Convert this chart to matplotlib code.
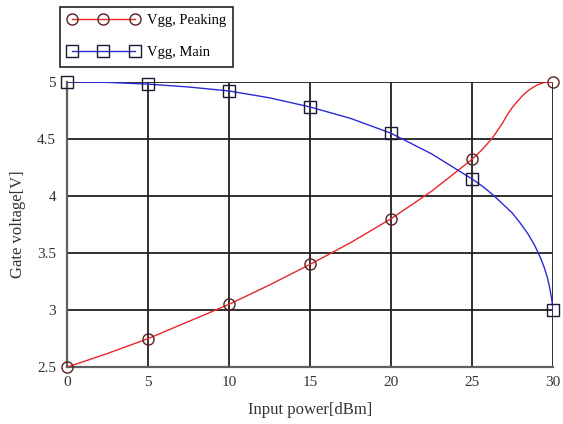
import matplotlib
matplotlib.use("Agg")
import matplotlib.pyplot as plt
from matplotlib.lines import Line2D

plt.rcParams['font.family'] = ['Liberation Serif', 'DejaVu Serif']

# Marker points
x_mark = [0, 5, 10, 15, 20, 25, 30]
peak_mark = [2.5, 2.75, 3.05, 3.4, 3.8, 4.32, 5.0]
main_mark = [5.0, 4.98, 4.92, 4.78, 4.55, 4.15, 3.0]

# Smooth curve traces
x_peak_line = [0, 2.5, 5, 7.5, 10, 12.5, 15, 17.5, 20, 22.5, 25, 25.66, 26.28, 26.9, 27.2, 27.52, 27.85, 28.14, 28.45, 28.76, 29.07, 29.38, 29.7, 30]
peak_line = [2.5, 2.62, 2.75, 2.9, 3.05, 3.22, 3.4, 3.59, 3.8, 4.04, 4.32, 4.41, 4.51, 4.64, 4.715, 4.78, 4.835, 4.88, 4.92, 4.95, 4.975, 4.99, 4.998, 5.0]
x_main_line = [0, 2.5, 5, 7.5, 10, 12.5, 15, 17.5, 20, 22.5, 25, 25.7, 26.3, 26.9, 27.5, 28.0, 28.5, 28.9, 29.2, 29.45, 29.65, 29.8, 29.9, 29.97, 30]
main_line = [5.0, 4.995, 4.98, 4.955, 4.92, 4.86, 4.78, 4.68, 4.55, 4.37, 4.15, 4.08, 4.01, 3.93, 3.85, 3.76, 3.66, 3.56, 3.47, 3.38, 3.29, 3.20, 3.12, 3.05, 3.0]

xticks = [0, 5, 10, 15, 20, 25, 30]
yticks = [2.5, 3, 3.5, 4, 4.5, 5]
yticklabels = ['2.5', '3', '3.5', '4', '4.5', '5']

fig = plt.figure(figsize=(5.63, 4.24), dpi=100)
ax = fig.add_axes([0.119, 0.134, 0.863, 0.673])

red = '#e8262a'
blue = '#2a2ad8'
ax.plot(x_peak_line, peak_line, color=red, lw=1.0, zorder=3)
ax.plot(x_main_line, main_line, color=blue, lw=1.0, zorder=3)
ax.plot(x_mark, peak_mark, ls='none', marker='o', ms=8, mfc='none', mec='#5a2020', mew=1.0, zorder=4, clip_on=False)
ax.plot(x_mark, main_mark, ls='none', marker='s', ms=8, mfc='none', mec='#1a1a30', mew=1.0, zorder=4, clip_on=False)

ax.set_xlim(0, 30)
ax.set_ylim(2.5, 5)
ax.set_xticks(xticks)
ax.set_yticks(yticks)
ax.set_yticklabels(yticklabels)
ax.grid(True, color='#202020', lw=1.3)
ax.set_axisbelow(True)
for s in ['top', 'right']:
    ax.spines[s].set_visible(False)
for s in ['left', 'bottom']:
    ax.spines[s].set_color('#606060')
    ax.spines[s].set_linewidth(1.6)
ax.tick_params(length=0, labelsize=11, colors='#333333')
ax.tick_params(axis='x', pad=6)
ax.tick_params(axis='y', pad=8)

ax.set_xlabel('Input power[dBm]', fontsize=12, color='#333333', labelpad=10)
ax.set_ylabel('Gate voltage[V]', fontsize=12, color='#333333', labelpad=8)

h1 = Line2D([], [], color=red, lw=1.0, marker='o', ms=8, mfc='none', mec='#5a2020')
h2 = Line2D([], [], color=blue, lw=1.0, marker='s', ms=8, mfc='none', mec='#1a1a30')
leg = ax.legend([h1, h2], ['Vgg, Peaking', 'Vgg, Main'], loc='lower left',
                bbox_to_anchor=(-0.014, 1.053), numpoints=3, handlelength=4.9,
                fontsize=10.5, fancybox=False, framealpha=1, edgecolor='#222222',
                borderpad=0.5, labelspacing=1.3, handletextpad=0.55, borderaxespad=0)
leg.get_frame().set_linewidth(1.2)

fig.savefig('out.png', dpi=100)
